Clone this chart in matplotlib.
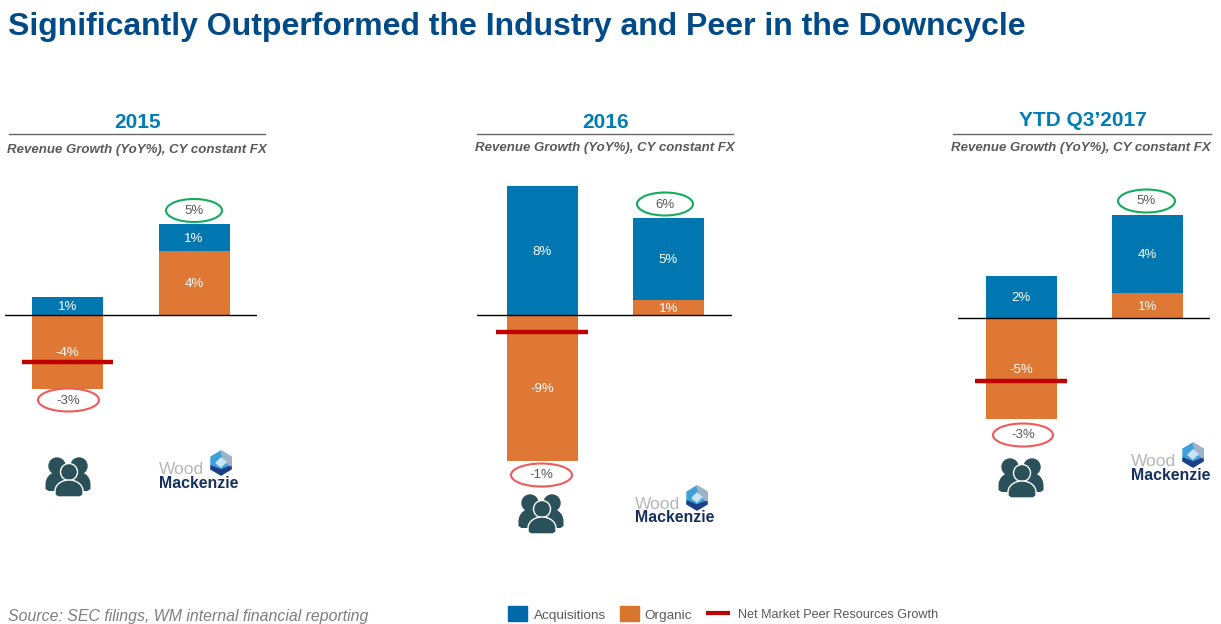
import matplotlib
matplotlib.use("Agg")
import numpy as np
import matplotlib.pyplot as plt
from matplotlib.patches import Ellipse, Polygon, Rectangle

plt.rcParams['font.family'] = ['Liberation Sans', 'DejaVu Sans']

W, H = 1221, 624
BLUE = '#0077B0'
ORANGE = '#E07835'
RED = '#C00000'
GREY = '#595959'
TEAL = '#2A5159'
NAVY = '#14305F'

periods = ['2015', '2016', 'YTD Q3’2017']
acquisitions = [[1.0, 1.5], [8.05, 5.1], [2.1, 3.9]]
organic = [[-4.1, 3.55], [-9.1, 0.95], [-5.05, 1.25]]
peer_growth = [-2.6, -1.05, -3.15]
acq_labels = [['1%', '1%'], ['8%', '5%'], ['2%', '4%']]
org_labels = [['-4%', '4%'], ['-9%', '1%'], ['-5%', '1%']]
net_labels = [['-3%', '5%'], ['-1%', '6%'], ['-3%', '5%']]

# pixel layout of each panel: axis left/right, first bar centre, zero line y, px per 1%
panels = [
    dict(left=5, right=257, c0=67.5, zero=315, scale=18, rule=(9, 265), title_y=122, sub_y=149.5, sub_x=136.5,
         ell=[(68.5, 400, 61), (194, 210.5, 56)], people=(68, 477), logo=(159, 468)),
    dict(left=477, right=732, c0=542, zero=315, scale=16, rule=(477, 733), title_y=122, sub_y=148.5, sub_x=605,
         ell=[(541.5, 475, 61), (665, 204, 56)], people=(541, 514), logo=(635, 503)),
    dict(left=958, right=1210, c0=1021, zero=318, scale=20, rule=(953, 1211), title_y=121, sub_y=148.5, sub_x=1081,
         ell=[(1023, 435, 60), (1146.5, 201, 57)], people=(1021, 478), logo=(1131, 460)),
]
PITCH = 126.5
BAR_W = 71 / PITCH


def dome(ov, x0, x1, ytop, ybot, **kw):
    # head-and-shoulders body: half ellipse on top, nearly flat bottom
    t = np.linspace(np.pi, 0, 30)
    cx, rx = (x0 + x1) / 2, (x1 - x0) / 2
    split = ytop + (ybot - ytop) * 0.65
    pts = list(zip(cx + rx * np.cos(t), split - (split - ytop) * np.sin(t)))
    pts += [(x1, ybot - 2), (x1 - 3, ybot), (x0 + 3, ybot), (x0, ybot - 2)]
    ov.add_patch(Polygon(pts, **kw))


def draw_people(ov, cx, cy):
    for dx in (-11, 11):
        ov.add_patch(Ellipse((cx + dx, cy - 11), 16, 16, color=TEAL, zorder=5))
        dome(ov, cx + dx - 11.5, cx + dx + 11.5, cy - 5, cy + 14, fc=TEAL, ec='none', zorder=5)
    ov.add_patch(Ellipse((cx + 1, cy - 5), 17, 17, fc=TEAL, ec='white', lw=1, zorder=6))
    dome(ov, cx - 13, cx + 15, cy + 3, cy + 20, fc=TEAL, ec='white', lw=1, zorder=6)


def draw_logo(ov, x, y):
    ov.text(x, y + 1.5, 'Wood', fontsize=12.5, color='#B4B6BA', va='center', ha='left', zorder=5)
    ov.text(x, y + 15, 'Mackenzie', fontsize=11.4, color=NAVY, weight='bold', va='center', ha='left', zorder=5)
    hx, hy = x + 62, y - 5
    ov.add_patch(Polygon([(hx, hy - 12), (hx + 10, hy - 6), (hx + 10, hy + 6), (hx, hy + 12),
                          (hx - 10, hy + 6), (hx - 10, hy - 6)], color='#3F9FD8', zorder=5))
    ov.add_patch(Polygon([(hx - 10, hy + 3), (hx, hy + 7), (hx + 10, hy + 3), (hx + 10, hy + 6),
                          (hx, hy + 12), (hx - 10, hy + 6)], color='#1E3F86', zorder=6))
    ov.add_patch(Polygon([(hx, hy - 12), (hx + 10, hy - 6), (hx + 10, hy + 3), (hx + 3, hy - 2)],
                         color='#9FB4C8', zorder=6))
    ov.add_patch(Polygon([(hx, hy - 5), (hx + 5, hy - 1), (hx, hy + 4), (hx - 5, hy)], color='#C9E4F4', zorder=7))


def bar_label(ax, x, y, s):
    ax.annotate(s, (x, y), xytext=(0, -1), textcoords='offset points', color='white', fontsize=9.5,
                ha='center', va='center', zorder=4)


fig = plt.figure(figsize=(W / 100, H / 100), dpi=100)

# overlay in picture pixels for titles, rules, ovals and logos
ov = fig.add_axes([0, 0, 1, 1], zorder=3)
ov.set_xlim(0, W)
ov.set_ylim(H, 0)
ov.axis('off')
ov.patch.set_alpha(0)

ov.text(8, 26.5, 'Significantly Outperformed the Industry and Peer in the Downcycle', fontsize=23,
        weight='bold', color='#004B87', va='center', ha='left')

for i, p in enumerate(panels):
    # bars use the panel's own y scale, so the axes are sized from zero line and scale
    top, bottom = p['zero'] - 150, p['zero'] + 150
    ax = fig.add_axes([p['left'] / W, 1 - bottom / H, (p['right'] - p['left']) / W, (bottom - top) / H], zorder=2)
    ax.set_xlim((p['left'] - p['c0']) / PITCH, (p['right'] - p['c0']) / PITCH)
    ax.set_ylim(-150 / p['scale'], 150 / p['scale'])
    ax.axis('off')

    for j in range(2):
        acq, org = acquisitions[i][j], organic[i][j]
        # acquisitions stack on organic when organic is positive
        acq_base = org if org > 0 else 0
        ax.bar(j, org, BAR_W, color=ORANGE)
        ax.bar(j, acq, BAR_W, bottom=acq_base, color=BLUE)
        bar_label(ax, j, acq_base + acq / 2, acq_labels[i][j])
        bar_label(ax, j, org / 2, org_labels[i][j])

    ax.axhline(0, color='black', lw=1)
    ax.plot([-0.36, 0.36], [peer_growth[i]] * 2, color=RED, lw=3.2, solid_capstyle='butt', zorder=5)

    # section heading
    mid = (p['rule'][0] + p['rule'][1]) / 2
    ov.text(mid + 1, p['title_y'], periods[i], fontsize=15, weight='bold', color='#007DB5', ha='center', va='center')
    ov.plot(p['rule'], [133.5, 133.5], color='#666666', lw=1)
    ov.text(p['sub_x'], p['sub_y'], 'Revenue Growth (YoY%), CY constant FX', fontsize=9.55, weight='bold',
            style='italic', color=GREY, ha='center', va='center')

    # net growth ovals
    for j, ((cx, y, w), col) in enumerate(zip(p['ell'], ['#F25A5A', '#12AD5C'])):
        ov.add_patch(Ellipse((cx, y), w, 23, fc='white', ec=col, lw=1.5, zorder=4))
        ov.text(cx, y + 0.5, net_labels[i][j], fontsize=9.5, color=GREY, ha='center', va='center', zorder=5)

    draw_people(ov, *p['people'])
    draw_logo(ov, *p['logo'])

ov.text(8, 616, 'Source: SEC filings, WM internal financial reporting', fontsize=11.45, style='italic',
        color='#7F7F7F', ha='left', va='center')

# legend is laid out by hand, the swatch sizes and gaps differ per entry
ov.add_patch(Rectangle((508, 606), 19, 15, color='#0069AA'))
ov.text(534, 616, 'Acquisitions', fontsize=9.7, color=GREY, va='center', ha='left')
ov.add_patch(Rectangle((620, 606), 19, 15, color='#D8762E'))
ov.text(644, 616, 'Organic', fontsize=9.7, color=GREY, va='center', ha='left')
ov.plot([706, 730], [613, 613], color=RED, lw=3, solid_capstyle='butt')
ov.text(738, 615, 'Net Market Peer Resources Growth', fontsize=9.1, color=GREY, va='center', ha='left')

fig.savefig('out.png', dpi=100)
